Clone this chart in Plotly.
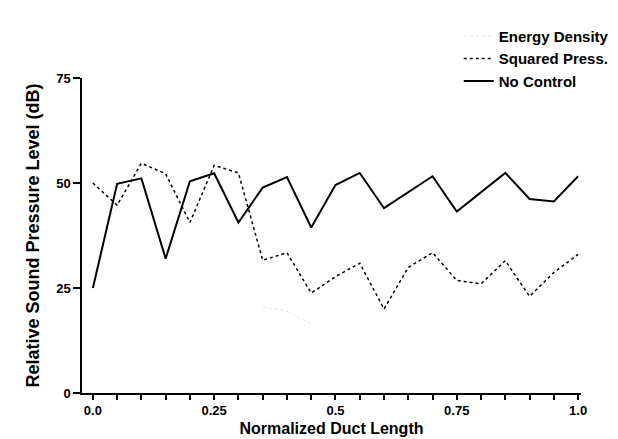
import plotly.graph_objects as go

x_pos = [0.0, 0.05, 0.10, 0.15, 0.20, 0.25, 0.30, 0.35, 0.40, 0.45, 0.50,
         0.55, 0.60, 0.65, 0.70, 0.75, 0.80, 0.85, 0.90, 0.95, 1.0]
no_control = [25, 49.8, 51.1, 32, 50.4, 52.3, 40.6, 48.9, 51.4, 39.4, 49.5,
              52.4, 44, 47.8, 51.6, 43.2, 47.8, 52.4, 46.2, 45.6, 51.6]
squared_press = [50, 44.7, 54.7, 52.2, 40.6, 54.2, 52.4, 31.6, 33.4, 23.8, 27.7,
                 30.9, 20, 29.9, 33.4, 26.8, 26, 31.5, 23, 28.7, 33]
energy_density = [None, None, None, None, None, None, None, 20.5, 19.5, 16.5, None,
                  None, None, None, None, None, None, None, None, None, None]

x_tickvals = [0.0, 0.25, 0.5, 0.75, 1.0]
x_ticktext = ["0.0", "0.25", "0.5", "0.75", "1.0"]
y_tickvals = [0, 25, 50, 75]

FONT = "Liberation Sans, Arial, Helvetica, sans-serif"

fig = go.Figure()
fig.add_trace(go.Scatter(x=x_pos, y=energy_density, mode="lines", name="Energy Density",
                         line=dict(color="#e4e4e4", width=1, dash="dot")))
fig.add_trace(go.Scatter(x=x_pos, y=squared_press, mode="lines", name="Squared Press.",
                         line=dict(color="black", width=1.5, dash="dot")))
fig.add_trace(go.Scatter(x=x_pos, y=no_control, mode="lines", name="No Control",
                         line=dict(color="black", width=2)))

fig.update_layout(
    width=618, height=439,
    margin=dict(l=74, r=38, t=62, b=51),
    paper_bgcolor="white", plot_bgcolor="white",
    font=dict(family=FONT, color="black", size=13, weight="bold"),
    legend=dict(x=0.755, y=1.185, xanchor="left", yanchor="top",
                font=dict(size=15, weight="bold", family=FONT),
                bgcolor="rgba(0,0,0,0)", tracegroupgap=0, itemwidth=30),
    showlegend=True,
)
fig.update_xaxes(
    range=[-0.0224, 1.006], showgrid=False, zeroline=False,
    showline=True, linecolor="black", linewidth=1.5,
    tickmode="array", tickvals=x_tickvals, ticktext=x_ticktext,
    ticks="outside", ticklen=5, tickwidth=1.5, tickcolor="black",
    minor=dict(dtick=0.05, tick0=0, ticks="outside", ticklen=5, tickwidth=1.5, tickcolor="black"),
    tickfont=dict(size=13, weight="bold", family=FONT),
    title=dict(text="Normalized Duct Length", font=dict(size=16, weight="bold", family=FONT), standoff=5),
)
fig.update_yaxes(
    range=[0, 75], showgrid=False, zeroline=False,
    showline=True, linecolor="black", linewidth=1.5,
    tickmode="array", tickvals=y_tickvals,
    ticks="outside", ticklen=7, tickwidth=1.5, tickcolor="black",
    tickfont=dict(size=13, weight="bold", family=FONT),
    title=dict(text="Relative Sound Pressure Level (dB)", font=dict(size=18, weight="bold", family=FONT), standoff=12),
)

fig.write_html("out.html")
